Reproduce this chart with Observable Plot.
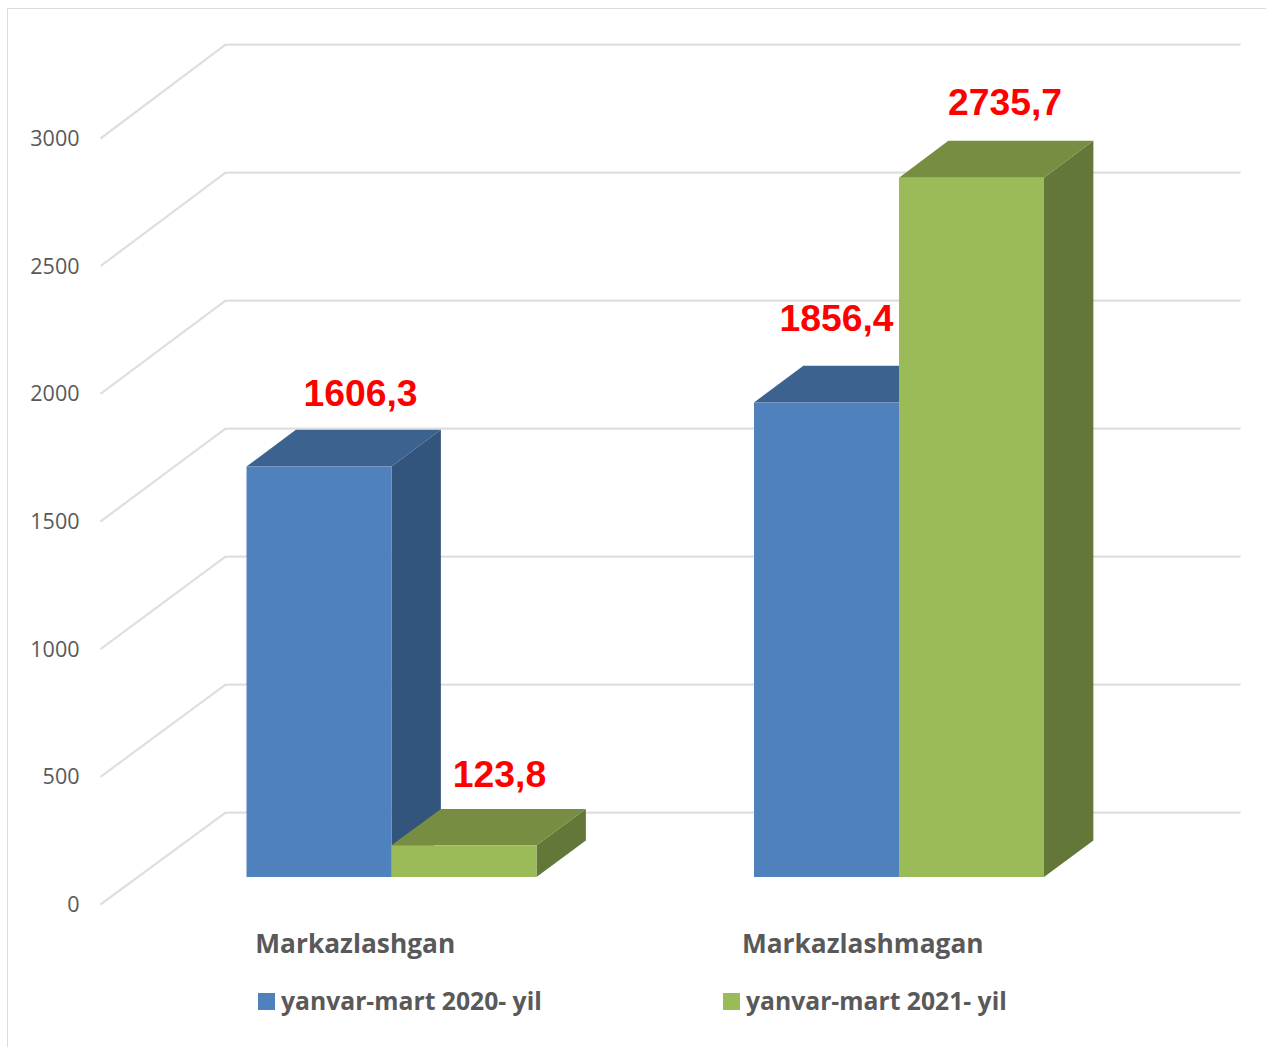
<!DOCTYPE html>
<html>
<head>
<meta charset="utf-8">
<script src="https://cdn.jsdelivr.net/npm/d3@7"></script>
<script src="https://cdn.jsdelivr.net/npm/@observablehq/plot@0.6"></script>
<style>
  html, body { margin: 0; padding: 0; background: #fff; }
  #page { position: relative; width: 1266px; height: 1047px; overflow: hidden; }
  #rule { position: absolute; left: 7px; top: 8px; right: -4px; bottom: -4px; border: 1.5px solid #dcdcdc; box-sizing: border-box; }
  #chart { position: absolute; left: 0; top: 0; }
  #legend { position: absolute; left: 0; top: 975px; width: 1266px; height: 50px; font: 700 24.7px "Open Sans", sans-serif; color: #595959; }
  .item { position: absolute; top: 13px; display: flex; align-items: center; height: 26px; white-space: nowrap; }
  .item .name { position: relative; top: -1px; }
  .swatch { width: 17px; height: 17px; margin-right: 6px; }
</style>
</head>
<body>
<div id="page">
  <div id="rule"></div>
  <div id="chart"></div>
  <div id="legend"></div>
</div>
<script>
const categories = ["Markazlashgan", "Markazlashmagan"];
const seriesNames = ["yanvar-mart 2020- yil", "yanvar-mart 2021- yil"];
const values2020 = [1606.3, 1856.4];
const values2021 = [123.8, 2735.7];
const yTicks = [0, 500, 1000, 1500, 2000, 2500, 3000];

// Colours of the three visible faces of each series
const palette = [
  {front: "#4f81bd", top: "#3c628f", side: "#33547c"},
  {front: "#9bbb59", top: "#768d42", side: "#637838"}
];

// Oblique projection: depth 0 is the front of the floor, depth 1 the back wall
const depthX = 125 / 507.5;      // category units per unit of depth
const depthY = 360;              // value units per unit of depth
const depthTilt = 0.0026;
const project = (u, v, d) => ({x: u + d * depthX, y: v * (1 + depthTilt * d) + d * depthY});

const barWidth = 0.2857;
const barFront = 0.3, barBack = 0.695;

const bars = [];
categories.forEach((category, i) => {
  const c = i + 0.4995;
  bars.push({category, series: 0, value: values2020[i], u0: c - barWidth, u1: c});
  bars.push({category, series: 1, value: values2021[i], u0: c, u1: c + barWidth});
});

const facePoints = [];
bars.forEach((b, i) => {
  const col = palette[b.series];
  const add = (face, fill, pts) => pts.forEach(([u, v, d]) => facePoints.push({id: `${i}-${face}`, fill, ...project(u, v, d)}));
  add("side", col.side, [[b.u1, 0, barFront], [b.u1, 0, barBack], [b.u1, b.value, barBack], [b.u1, b.value, barFront]]);
  add("top", col.top, [[b.u0, b.value, barFront], [b.u1, b.value, barFront], [b.u1, b.value, barBack], [b.u0, b.value, barBack]]);
  add("front", col.front, [[b.u0, 0, barFront], [b.u1, 0, barFront], [b.u1, b.value, barFront], [b.u0, b.value, barFront]]);
});

const gridPoints = yTicks.flatMap(v => [
  {v, ...project(0, v, 0)},
  {v, ...project(0, v, 1)},
  {v, ...project(2, v, 1)}
]);

const labelNudges = [[41.5, -72.5], [35.5, -70.5], [10, -83.5], [33.5, -74.5]];
const labelMarks = bars.map((b, i) => Plot.text([b], {
  x: d => project((d.u0 + d.u1) / 2, 0, barFront).x,
  y: d => project(0, d.value, barFront).y,
  text: d => d.value.toFixed(1).replace(".", ","),
  dx: labelNudges[i][0],
  dy: labelNudges[i][1],
  fill: "#ff0000",
  fontSize: 37.3,
  fontWeight: 700,
  fontFamily: "Liberation Sans",
  lineAnchor: "middle"
}));

const chart = Plot.plot({
  width: 1266,
  height: 975,
  marginLeft: 100,
  marginRight: 151,
  marginTop: 138,
  marginBottom: 71,
  style: {fontFamily: "'Open Sans', sans-serif", background: "transparent", overflow: "visible"},
  x: {domain: [0, 2], range: [100, 1115]},
  y: {domain: [0, 3000], range: [904, 138]},
  marks: [
    Plot.line(gridPoints, {x: "x", y: "y", z: "v", stroke: "#dfdfdf", strokeWidth: 2.2, strokeLinecap: "butt"}),
    Plot.line(facePoints, {x: "x", y: "y", z: "id", fill: "fill", stroke: "none"}),
    Plot.axisY({ticks: yTicks, tickSize: 0, tickPadding: 21, dy: 0.5, fontSize: 21.5, color: "#595959", label: null, tickFormat: d => String(d)}),
    Plot.axisX({ticks: [0.5, 1.5], tickSize: 0, tickPadding: 30, dx: 1, fontSize: 26.3, fontWeight: 700, color: "#595959", label: null, tickFormat: d => categories[Math.floor(d)]}),
    ...labelMarks
  ]
});
document.getElementById("chart").append(chart);

const legend = document.getElementById("legend");
[[258, palette[0].front], [723, palette[1].front]].forEach(([left, color], i) => {
  const item = document.createElement("div");
  item.className = "item";
  item.style.left = left + "px";
  const swatch = document.createElement("span");
  swatch.className = "swatch";
  swatch.style.background = color;
  const label = document.createElement("span");
  label.className = "name";
  label.textContent = seriesNames[i];
  item.append(swatch, label);
  legend.append(item);
});
</script>
</body>
</html>
